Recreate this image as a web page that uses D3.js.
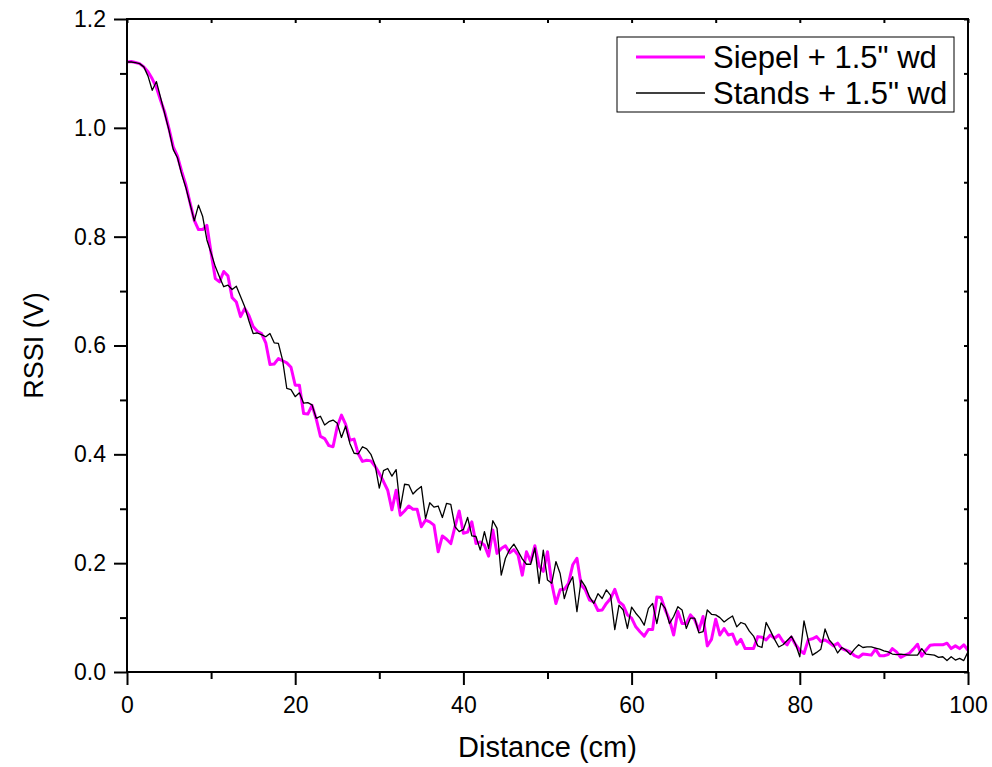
<!DOCTYPE html>
<html>
<head>
<meta charset="utf-8">
<script src="https://cdn.jsdelivr.net/npm/d3@7"></script>
<style>
  body { margin: 0; background: #fff; }
  svg { font-family: "Liberation Sans", Arial, sans-serif; }
  .axis path.domain { display: none; }
  .axis line { stroke: #000; stroke-width: 2; }
  .axis text { font-size: 23px; fill: #000; }
</style>
</head>
<body>
<div id="chart"></div>
<script>
// distance grid, cm (one reading every 0.5 cm)
var distance = d3.range(0, 100.001, 0.5);

// RSSI (V)
var siepel = [
  1.121, 1.122, 1.120, 1.118, 1.112, 1.103, 1.090, 1.074, 1.050, 1.028,
  0.998, 0.965, 0.948, 0.920, 0.895, 0.862, 0.830, 0.813, 0.813, 0.821,
  0.770, 0.723, 0.717, 0.736, 0.728, 0.688, 0.680, 0.653, 0.668, 0.655,
  0.635, 0.626, 0.622, 0.605, 0.565, 0.566, 0.576, 0.572, 0.568, 0.560,
  0.527, 0.527, 0.475, 0.474, 0.490, 0.465, 0.433, 0.429, 0.416, 0.414,
  0.451, 0.472, 0.455, 0.426, 0.428, 0.401, 0.387, 0.389, 0.388, 0.378,
  0.365, 0.350, 0.334, 0.298, 0.334, 0.288, 0.296, 0.305, 0.299, 0.299,
  0.267, 0.279, 0.276, 0.270, 0.221, 0.250, 0.244, 0.236, 0.267, 0.296,
  0.255, 0.257, 0.276, 0.236, 0.239, 0.233, 0.213, 0.261, 0.218, 0.227,
  0.232, 0.219, 0.225, 0.215, 0.178, 0.221, 0.203, 0.232, 0.195, 0.185,
  0.221, 0.163, 0.126, 0.151, 0.152, 0.163, 0.197, 0.209, 0.160, 0.151,
  0.132, 0.129, 0.113, 0.114, 0.126, 0.135, 0.152, 0.129, 0.123, 0.105,
  0.099, 0.083, 0.074, 0.066, 0.078, 0.078, 0.138, 0.137, 0.114, 0.096,
  0.068, 0.111, 0.089, 0.089, 0.105, 0.096, 0.077, 0.102, 0.048, 0.060,
  0.097, 0.068, 0.080, 0.068, 0.070, 0.051, 0.060, 0.043, 0.043, 0.043,
  0.065, 0.064, 0.059, 0.068, 0.062, 0.068, 0.056, 0.050, 0.064, 0.050,
  0.040, 0.034, 0.059, 0.061, 0.065, 0.056, 0.059, 0.054, 0.048, 0.053,
  0.043, 0.040, 0.037, 0.030, 0.027, 0.033, 0.032, 0.031, 0.042, 0.030,
  0.030, 0.032, 0.043, 0.037, 0.027, 0.031, 0.034, 0.042, 0.051, 0.029,
  0.040, 0.049, 0.050, 0.050, 0.050, 0.053, 0.043, 0.048, 0.043, 0.050,
  0.040
];

var stands = [
  1.121, 1.121, 1.120, 1.118, 1.112, 1.095, 1.069, 1.085, 1.055, 1.025,
  0.995, 0.960, 0.945, 0.915, 0.890, 0.860, 0.829, 0.858, 0.837, 0.794,
  0.770, 0.745, 0.726, 0.708, 0.711, 0.703, 0.709, 0.690, 0.671, 0.645,
  0.622, 0.623, 0.620, 0.616, 0.622, 0.605, 0.604, 0.573, 0.521, 0.519,
  0.506, 0.513, 0.494, 0.495, 0.491, 0.466, 0.470, 0.454, 0.460, 0.463,
  0.457, 0.431, 0.452, 0.420, 0.402, 0.401, 0.414, 0.410, 0.400, 0.380,
  0.338, 0.370, 0.374, 0.360, 0.372, 0.301, 0.345, 0.344, 0.327, 0.335,
  0.341, 0.282, 0.311, 0.303, 0.305, 0.284, 0.310, 0.308, 0.267, 0.258,
  0.262, 0.284, 0.250, 0.249, 0.224, 0.258, 0.227, 0.278, 0.264, 0.178,
  0.209, 0.225, 0.235, 0.222, 0.208, 0.198, 0.198, 0.228, 0.163, 0.224,
  0.169, 0.163, 0.203, 0.181, 0.135, 0.160, 0.175, 0.111, 0.169, 0.157,
  0.138, 0.126, 0.144, 0.135, 0.151, 0.141, 0.078, 0.123, 0.114, 0.080,
  0.119, 0.108, 0.099, 0.086, 0.117, 0.126, 0.089, 0.127, 0.117, 0.089,
  0.102, 0.120, 0.114, 0.080, 0.099, 0.099, 0.072, 0.074, 0.114, 0.106,
  0.105, 0.100, 0.092, 0.098, 0.103, 0.083, 0.091, 0.088, 0.075, 0.066,
  0.048, 0.045, 0.091, 0.076, 0.060, 0.046, 0.050, 0.058, 0.066, 0.051,
  0.028, 0.094, 0.059, 0.031, 0.036, 0.042, 0.079, 0.059, 0.050, 0.035,
  0.045, 0.040, 0.032, 0.042, 0.050, 0.045, 0.046, 0.046, 0.044, 0.042,
  0.039, 0.037, 0.033, 0.032, 0.033, 0.032, 0.031, 0.031, 0.031, 0.043,
  0.033, 0.032, 0.031, 0.027, 0.028, 0.021, 0.028, 0.022, 0.025, 0.021,
  0.037
];

var xMajor = [0, 20, 40, 60, 80, 100];
var xMinor = [10, 30, 50, 70, 90];
var yMajor = [0.0, 0.2, 0.4, 0.6, 0.8, 1.0, 1.2];
var yMinor = [0.1, 0.3, 0.5, 0.7, 0.9, 1.1];

var series = [
  { name: 'Siepel + 1.5" wd', values: siepel, color: "#ff00ff", width: 3 },
  { name: 'Stands + 1.5" wd', values: stands, color: "#000000", width: 1.3 }
];

var W = 992, H = 767;
var margin = { top: 19, right: 24, bottom: 95, left: 127 };
var width = W - margin.left - margin.right;
var height = H - margin.top - margin.bottom;

var svg = d3.select("#chart").append("svg")
    .attr("width", W)
    .attr("height", H);

var g = svg.append("g")
    .attr("transform", "translate(" + margin.left + "," + margin.top + ")");

var x = d3.scaleLinear().domain([0, 100]).range([0, width]);
var y = d3.scaleLinear().domain([0, 1.2]).range([height, 0]);

// bottom axis
g.append("g")
    .attr("class", "axis")
    .attr("transform", "translate(0," + height + ")")
    .call(d3.axisBottom(x).tickValues(xMajor).tickSize(13).tickPadding(12).tickSizeOuter(0));
g.append("g")
    .attr("class", "axis")
    .attr("transform", "translate(0," + height + ")")
    .call(d3.axisBottom(x).tickValues(xMinor).tickSize(7).tickFormat("").tickSizeOuter(0));

// left axis
g.append("g")
    .attr("class", "axis")
    .call(d3.axisLeft(y).tickValues(yMajor).tickSize(13).tickPadding(8)
      .tickFormat(d3.format(".1f")).tickSizeOuter(0));
g.append("g")
    .attr("class", "axis")
    .call(d3.axisLeft(y).tickValues(yMinor).tickSize(7).tickFormat("").tickSizeOuter(0));

// top and right: short inward ticks
g.append("g")
    .attr("class", "axis")
    .call(d3.axisTop(x).tickValues(xMajor.concat(xMinor)).tickSize(-4).tickFormat("").tickSizeOuter(0));
g.append("g")
    .attr("class", "axis")
    .attr("transform", "translate(" + width + ",0)")
    .call(d3.axisRight(y).tickValues(yMajor.concat(yMinor)).tickSize(-4).tickFormat("").tickSizeOuter(0));

var line = d3.line()
    .x(function(d, i) { return x(distance[i]); })
    .y(function(d) { return y(d); });

g.append("defs").append("clipPath")
    .attr("id", "clip")
    .append("rect")
    .attr("width", width)
    .attr("height", height);

g.append("g")
    .attr("clip-path", "url(#clip)")
    .selectAll("path")
    .data(series)
    .enter()
    .append("path")
    .attr("fill", "none")
    .attr("stroke", function(d) { return d.color; })
    .attr("stroke-width", function(d) { return d.width; })
    .attr("stroke-linejoin", "round")
    .attr("d", function(d) { return line(d.values); });

// frame
g.append("rect")
    .attr("width", width)
    .attr("height", height)
    .attr("fill", "none")
    .attr("stroke", "#000")
    .attr("stroke-width", 2);

// axis titles
svg.append("text")
    .attr("x", margin.left + width / 2)
    .attr("y", 757)
    .attr("text-anchor", "middle")
    .attr("font-size", 29)
    .text("Distance (cm)");

svg.append("text")
    .attr("transform", "translate(43," + (margin.top + height / 2) + ") rotate(-90)")
    .attr("text-anchor", "middle")
    .attr("font-size", 27)
    .text("RSSI (V)");

// legend
var legend = svg.append("g").attr("transform", "translate(617,37)");
legend.append("rect")
    .attr("width", 337)
    .attr("height", 75)
    .attr("fill", "#fff")
    .attr("stroke", "#000")
    .attr("stroke-width", 1);

var item = legend.selectAll(".item")
    .data(series)
    .enter()
    .append("g")
    .attr("class", "item")
    .attr("transform", function(d, i) { return "translate(0," + (20 + i * 36) + ")"; });

item.append("line")
    .attr("x1", 19)
    .attr("x2", 88)
    .attr("stroke", function(d) { return d.color; })
    .attr("stroke-width", function(d) { return d.width; });

item.append("text")
    .attr("x", 96)
    .attr("dy", "0.35em")
    .attr("font-size", 31)
    .text(function(d) { return d.name; });
</script>
</body>
</html>
